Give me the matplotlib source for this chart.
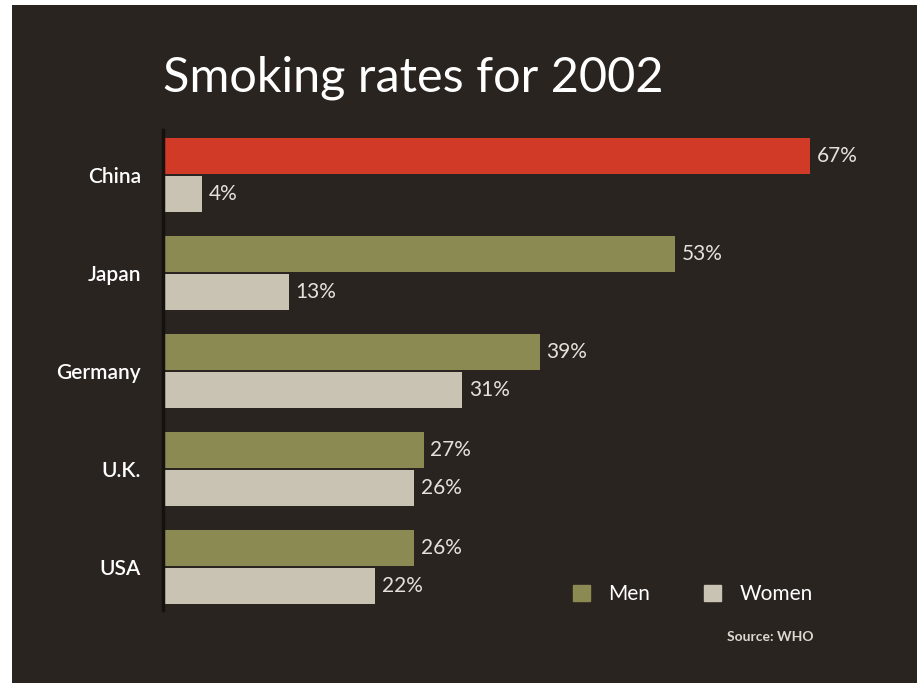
import numpy as np
import matplotlib.pyplot as plt
from matplotlib.patches import Rectangle

countries = ['China', 'Japan', 'Germany', 'U.K.', 'USA']
men = [67, 53, 39, 27, 26]
women = [4, 13, 31, 26, 22]

bg = '#2a2420'
red = '#d23a28'
olive = '#8b8a52'
light = '#c9c3b4'

plt.rcParams['font.family'] = ['Lato', 'DejaVu Sans']

W, H = 917, 683
fig = plt.figure(figsize=(W / 100, H / 100), dpi=100, facecolor='white')
fig.patches.append(Rectangle((12 / W, -0.02), 1.1, (H - 5) / H + 0.02,
                             transform=fig.transFigure,
                             facecolor=bg, edgecolor='none', zorder=-10))

ax = fig.add_axes([163 / W, (H - 610) / H, 753 / W, 480 / H])
ax.set_facecolor('none')

y = np.arange(len(countries))
bh = 0.37
men_colors = [red if c == 'China' else olive for c in countries]
ax.barh(y - 0.195, men, height=bh, color=men_colors, label='Men')
ax.barh(y + 0.195, women, height=bh, color=light, label='Women')

for yy, v in zip(y, men):
    ax.text(v + 0.7, yy - 0.195, f'{v}%', color='#e4e0da', fontsize=15,
            va='center', ha='left')
for yy, v in zip(y, women):
    ax.text(v + 0.7, yy + 0.195, f'{v}%', color='#e4e0da', fontsize=15,
            va='center', ha='left')

ax.set_xlim(0, 78)
ax.set_ylim(4.439, -0.459)
ax.set_yticks(y)
ax.set_yticklabels(countries, color='white', fontsize=15, fontweight='semibold')
ax.tick_params(axis='y', length=0, pad=16)
ax.set_xticks([])
for s in ['top', 'right', 'bottom']:
    ax.spines[s].set_visible(False)
ax.spines['left'].set_color('#15110e')
ax.spines['left'].set_linewidth(2.5)

fig.text(163 / W, 1 - 78 / H, 'Smoking rates for 2002', color='white',
         fontsize=35, va='center', ha='left')

# legend with plain square swatches
h_men = Rectangle((0, 0), 1, 1, color=olive)
h_wom = Rectangle((0, 0), 1, 1, color=light)
leg = fig.legend([h_men, h_wom], ['Men', 'Women'], ncol=2, frameon=False,
                 loc='center left', bbox_to_anchor=(573 / W, 1 - 594 / H),
                 borderpad=0, borderaxespad=0,
                 handlelength=0.82, handleheight=0.82, handletextpad=0.87,
                 columnspacing=2.6, fontsize=15)
for t in leg.get_texts():
    t.set_color('white')

fig.text(770 / W, 1 - 637 / H, 'Source: WHO', color='#ddd8d0', fontsize=10,
         fontweight='bold', va='center', ha='center')

fig.savefig('out.png', dpi=100, facecolor=fig.get_facecolor())
